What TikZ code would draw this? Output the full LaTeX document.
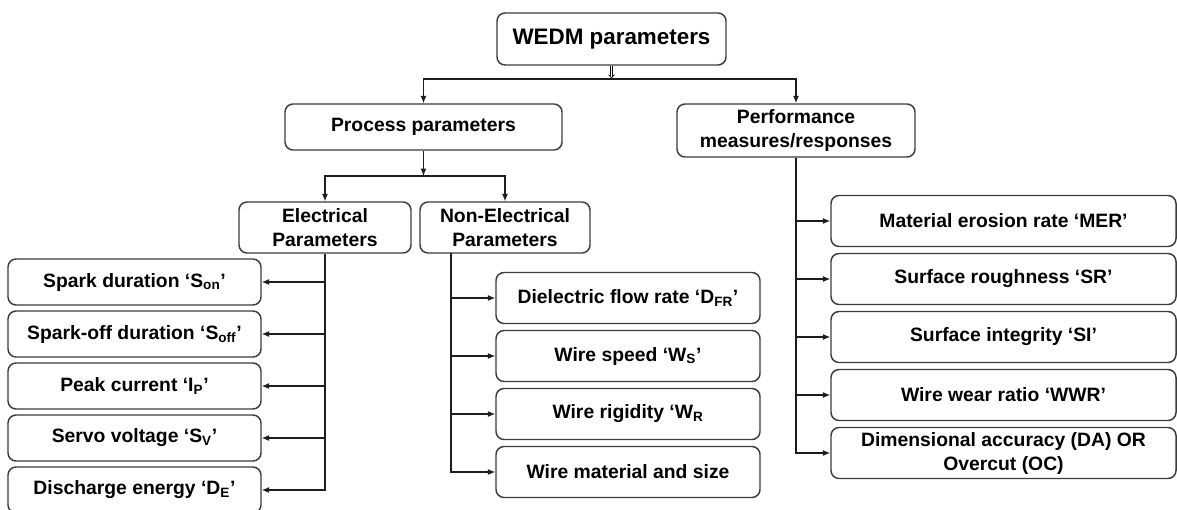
\documentclass[tikz,border=0pt]{standalone}
\usepackage{fontspec}
\setmainfont{Liberation Sans}
\usetikzlibrary{arrows.meta}

\tikzset{every picture/.style={line width=0.75pt}}
\tikzset{
  pbox/.style={draw={rgb, 255:red, 60; green, 60; blue, 60}, line width=1.1pt, rounded corners=6pt, inner sep=0pt, align=center, font=\bfseries\fontsize{14.5}{18}\selectfont},
  topbox/.style={pbox, minimum width=171.75pt, minimum height=39pt, font=\bfseries\fontsize{16.8}{20}\selectfont},
  ebox/.style={pbox, minimum width=189.75pt, minimum height=34.5pt},
  nbox/.style={pbox, minimum width=198pt, minimum height=38.25pt},
  rbox/.style={pbox, minimum width=258.75pt, minimum height=38.25pt},
  link/.style={line width=0.9pt, draw={rgb, 255:red, 30; green, 30; blue, 30}, -{Latex[length=5.5pt,width=4.5pt]}},
}

\begin{document}
\begin{tikzpicture}[x=0.75pt,y=0.75pt,yscale=-1,xscale=1]
\path [use as bounding box, clip] (0,0) rectangle (1177,510);

\draw (611.5,39) node [topbox] (wedm) {WEDM parameters};
\draw (423.5,127) node [pbox, minimum width=207.75pt, minimum height=34.5pt] (proc) {Process parameters};
\draw (796,130.5) node [pbox, minimum width=178.5pt, minimum height=39.75pt] (perf) {Performance\\measures/responses};
\draw (325,227.5) node [pbox, minimum width=129pt, minimum height=38.25pt] (elec) {Electrical\\Parameters};
\draw (505,227.5) node [pbox, minimum width=127.5pt, minimum height=38.25pt] (nonelec) {Non-Electrical\\Parameters};

%electrical
\draw (134.5,282) node [ebox] (son) {Spark duration ‘S\textsubscript{on}’};
\draw (134.5,334) node [ebox] (soff) {Spark-off duration ‘S\textsubscript{off}’};
\draw (134.5,386) node [ebox] (ip) {Peak current ‘I\textsubscript{P}’};
\draw (134.5,438) node [ebox] (sv) {Servo voltage ‘S\textsubscript{V}’};
\draw (134.5,490) node [ebox] (de) {Discharge energy ‘D\textsubscript{E}’};

%non-electrical
\draw (628,298) node [nbox] (dfr) {Dielectric flow rate ‘D\textsubscript{FR}’};
\draw (628,356) node [nbox] (ws) {Wire speed ‘W\textsubscript{S}’};
\draw (628,414) node [nbox] (wr) {Wire rigidity ‘W\textsubscript{R}};
\draw (628,472) node [nbox] (wms) {Wire material and size};

%responses
\draw (1003.5,221) node [rbox] (mer) {Material erosion rate ‘MER’};
\draw (1003.5,279) node [rbox] (sr) {Surface roughness ‘SR’};
\draw (1003.5,337) node [rbox] (si) {Surface integrity ‘SI’};
\draw (1003.5,395) node [rbox] (wwr) {Wire wear ratio ‘WWR’};
\draw (1003.5,453) node [rbox] (da) {Dimensional accuracy (DA) OR\\Overcut (OC)};

\coordinate (j1) at (611.5,79);
\coordinate (j2) at (423.5,176);
\coordinate (nespine) at (451,253);

\draw [line width=0.5pt, double, double distance=1.2pt, -{Implies}] (wedm) -- (j1);
\draw [link] (j1) -| (proc);
\draw [link] (j1) -| (perf);
\draw [link] (proc) -- (j2);
\draw [link] (j2) -| (elec);
\draw [link] (j2) -| (nonelec);

\foreach \n in {son,soff,ip,sv,de} \draw [link] (elec) |- (\n);
\foreach \n in {dfr,ws,wr,wms} \draw [link] (nespine) |- (\n);
\foreach \n in {mer,sr,si,wwr,da} \draw [link] (perf) |- (\n);

\end{tikzpicture}
\end{document}
